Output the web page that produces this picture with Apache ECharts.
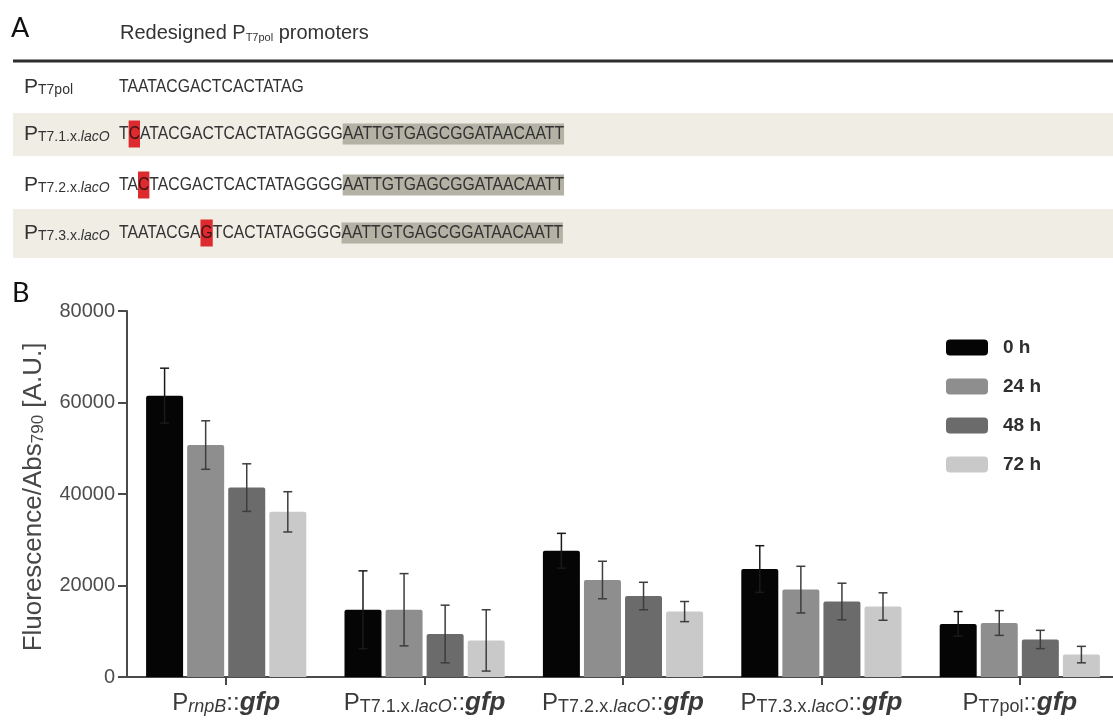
<!DOCTYPE html>
<html>
<head>
<meta charset="utf-8">
<title>Redesigned PT7pol promoters</title>
<script src="https://cdn.jsdelivr.net/npm/echarts@6/dist/echarts.min.js"></script>
<style>
  html, body { margin: 0; padding: 0; background: #fff; }
  #fig_dom { width: 1113px; height: 724px; }
</style>
</head>
<body>
<div id="fig_dom"></div>
<script>
// x axis categories and the subscript part of each promoter name
let promoters = ['PrnpB::gfp', 'PT7.1.x.lacO::gfp', 'PT7.2.x.lacO::gfp', 'PT7.3.x.lacO::gfp', 'PT7pol::gfp']
let promoterSub = ['rnpB', 'T7.1.x.', 'T7.2.x.', 'T7.3.x.', 'T7pol']
let promoterItalic = ['', 'lacO', 'lacO', 'lacO', '']
let times = ['0 h', '24 h', '48 h', '72 h']

// mean Fluorescence/Abs790 per time point
let h0 = [61500, 14700, 27600, 23600, 11600]
let h24 = [50700, 14700, 21200, 19100, 11800]
let h48 = [41400, 9400, 17700, 16500, 8200]
let h72 = [36100, 8000, 14300, 15400, 4900]
// error (sd) per time point
let e0 = [6000, 8500, 3800, 5100, 2700]
let e24 = [5300, 7900, 4100, 5100, 2700]
let e48 = [5200, 6300, 3000, 4000, 2000]
let e72 = [4400, 6700, 2200, 3000, 1800]

// y axis ticks
let yTicks = [0, 20000, 40000, 60000, 80000]

// panel A: promoter sequences
let rowSub = ['T7pol', 'T7.1.x.', 'T7.2.x.', 'T7.3.x.']
let rowItalic = ['', 'lacO', 'lacO', 'lacO']
let seqBefore = ['TAATACGACTCACTATAG', 'T', 'TA', 'TAATACGA']
let seqMut = ['', 'C', 'C', 'G']
let seqAfter = ['', 'ATACGACTCACTATAGGGG', 'TACGACTCACTATAGGGG', 'TCACTATAGGGG']
let lacO = ['', 'AATTGTGAGCGGATAACAATT', 'AATTGTGAGCGGATAACAATT', 'AATTGTGAGCGGATAACAATT']

// 颜色
let barColors = ['#050505', '#8e8e8e', '#6b6b6b', '#c9c9c9']
let axisColor = '#4a4a4a'
let font = 'Liberation Sans, Arial, sans-serif'

function build() {
  let chartDom = document.getElementById('fig_dom')
  let myChart = echarts.init(chartDom, null, { renderer: 'canvas' })

  let means = [h0, h24, h48, h72]
  let errs = [e0, e24, e48, e72]
  let barW = 37
  let gap = 0.11

  // panel A graphics
  let rowY = [87, 134, 185, 233]
  let graphics = [
    { type: 'rect', shape: { x: 13, y: 113, width: 1100, height: 43 }, style: { fill: '#efede4' } },
    { type: 'rect', shape: { x: 13, y: 209, width: 1100, height: 49 }, style: { fill: '#efede4' } },
    { type: 'line', shape: { x1: 13, y1: 61, x2: 1113, y2: 61 }, style: { stroke: '#2e2e2e', lineWidth: 3 } },
    { type: 'text', x: 11, y: 28, style: { text: 'A', fontSize: 27, fontFamily: 'Lato, Open Sans, sans-serif', fill: '#111', verticalAlign: 'middle' } },
    { type: 'text', x: 12, y: 293, style: { text: 'B', fontSize: 27, fontFamily: 'Lato, Open Sans, sans-serif', fill: '#111', verticalAlign: 'middle' } },
    {
      type: 'text', x: 120, y: 33,
      style: {
        text: '{n|Redesigned P}{s|T7pol}{n| promoters}',
        verticalAlign: 'middle',
        rich: {
          n: { fontSize: 20, fontFamily: font, fill: '#333', lineHeight: 20 },
          s: { fontSize: 11, fontFamily: font, fill: '#333', verticalAlign: 'bottom', lineHeight: 13 }
        }
      }
    },
    // y axis title
    {
      type: 'text', x: 34, y: 497, rotation: Math.PI / 2,
      style: {
        text: '{n|Fluorescence/Abs}{s|790}{n| [A.U.]}',
        align: 'center', verticalAlign: 'middle',
        rich: {
          n: { fontSize: 26, fontFamily: font, fill: '#474747', lineHeight: 26 },
          s: { fontSize: 17, fontFamily: font, fill: '#474747', verticalAlign: 'bottom', lineHeight: 15 }
        }
      }
    }
  ]
  rowSub.forEach(function (sub, i) {
    graphics.push({
      type: 'text', x: 24, y: rowY[i],
      style: {
        text: '{p|P}{s|' + sub + '}' + (rowItalic[i] ? '{i|' + rowItalic[i] + '}' : ''),
        verticalAlign: 'middle',
        rich: {
          p: { fontSize: 21, fontFamily: font, fill: '#333', lineHeight: 21 },
          s: { fontSize: 14, fontFamily: font, fill: '#333', verticalAlign: 'bottom', lineHeight: 16 },
          i: { fontSize: 14, fontFamily: font, fontStyle: 'italic', fill: '#333', verticalAlign: 'bottom', lineHeight: 16 }
        }
      }
    })
    let txt = '{n|' + seqBefore[i] + '}'
    if (seqMut[i]) txt += '{r|' + seqMut[i] + '}'
    if (seqAfter[i]) txt += '{n|' + seqAfter[i] + '}'
    if (lacO[i]) txt += '{g|' + lacO[i] + '}'
    graphics.push({
      type: 'text', x: 119, y: rowY[i], scaleX: 0.83,
      style: {
        text: txt,
        verticalAlign: 'middle',
        rich: {
          n: { fontSize: 19, fontFamily: font, fill: '#333' },
          r: { fontSize: 19, fontFamily: font, fill: '#3a1515', backgroundColor: '#dd2a2e', height: 27 },
          g: { fontSize: 19, fontFamily: font, fill: '#333', backgroundColor: '#b4b1a5', height: 21 }
        }
      }
    })
  })

  // 柱状图
  let series = times.map(function (t, k) {
    return {
      name: t,
      type: 'bar',
      data: means[k],
      barWidth: barW,
      barGap: gap * 100 + '%',
      itemStyle: { color: barColors[k], borderRadius: [2, 2, 0, 0] },
      emphasis: { disabled: true }
    }
  })
  // 误差线
  times.forEach(function (t, k) {
    series.push({
      name: 'err ' + t,
      type: 'custom',
      z: 5,
      silent: true,
      data: means[k].map(function (v, i) { return [i, v - errs[k][i], v + errs[k][i]] }),
      encode: { x: 0, y: [1, 2] },
      renderItem: function (params, api) {
        let i = api.value(0)
        let hi = api.coord([i, api.value(2)])
        let lo = api.coord([i, api.value(1)])
        let x = hi[0] + (k - 1.5) * barW * (1 + gap)
        let st = { stroke: k === 0 ? '#1a1a1a' : '#3d3d3d', lineWidth: 1.5 }
        return {
          type: 'group',
          children: [
            { type: 'line', shape: { x1: x, y1: hi[1], x2: x, y2: lo[1] }, style: st },
            { type: 'line', shape: { x1: x - 4.5, y1: hi[1], x2: x + 4.5, y2: hi[1] }, style: st },
            { type: 'line', shape: { x1: x - 4.5, y1: lo[1], x2: x + 4.5, y2: lo[1] }, style: st }
          ]
        }
      }
    })
  })

  let option = {
    animation: false,
    backgroundColor: '#fff',
    graphic: graphics,
    grid: { left: 127, top: 311, width: 992, height: 366, containLabel: false, outerBoundsMode: 'none' },
    legend: {
      data: times,
      orient: 'vertical',
      left: 941,
      top: 333,
      itemWidth: 42,
      itemHeight: 16,
      itemGap: 20,
      icon: 'roundRect',
      itemStyle: { borderWidth: 0 },
      selectedMode: false,
      textStyle: { fontSize: 19, fontWeight: 'bold', color: '#2f2f2f', fontFamily: font, padding: [0, 0, 0, 10] }
    },
    xAxis: {
      type: 'category',
      data: promoters,
      axisLine: { show: true, lineStyle: { color: axisColor, width: 2 } },
      axisTick: { show: true, alignWithLabel: true, length: 8, lineStyle: { color: axisColor, width: 2 } },
      splitLine: { show: false },
      axisLabel: {
        margin: 13,
        interval: 0,
        formatter: function (v, i) {
          let sub = promoterSub[i]
          let s = '{p|P}' + (i === 0 ? '{si|' + sub + '}' : '{s|' + sub + '}')
          if (promoterItalic[i]) s += '{si|' + promoterItalic[i] + '}'
          return s + '{p|::}{g|gfp}'
        },
        rich: {
          p: { fontSize: 24, fontFamily: font, color: '#3a3a3a', lineHeight: 26 },
          s: { fontSize: 18, fontFamily: font, color: '#3a3a3a', verticalAlign: 'bottom', lineHeight: 22 },
          si: { fontSize: 18, fontFamily: font, fontStyle: 'italic', color: '#3a3a3a', verticalAlign: 'bottom', lineHeight: 22 },
          g: { fontSize: 26, fontFamily: font, fontStyle: 'italic', fontWeight: 'bold', color: '#3a3a3a', lineHeight: 26 }
        }
      }
    },
    yAxis: {
      type: 'value',
      min: yTicks[0],
      max: yTicks[yTicks.length - 1],
      interval: yTicks[1] - yTicks[0],
      axisLine: { show: true, lineStyle: { color: axisColor, width: 2 } },
      axisTick: { show: true, length: 9, lineStyle: { color: axisColor, width: 2 } },
      splitLine: { show: false },
      axisLabel: {
        fontSize: 20, color: '#4d4d4d', fontFamily: font, margin: 12,
        formatter: function (v) { return String(v) }
      }
    },
    series: series
  }

  option && myChart.setOption(option)
}

build()
</script>
</body>
</html>
